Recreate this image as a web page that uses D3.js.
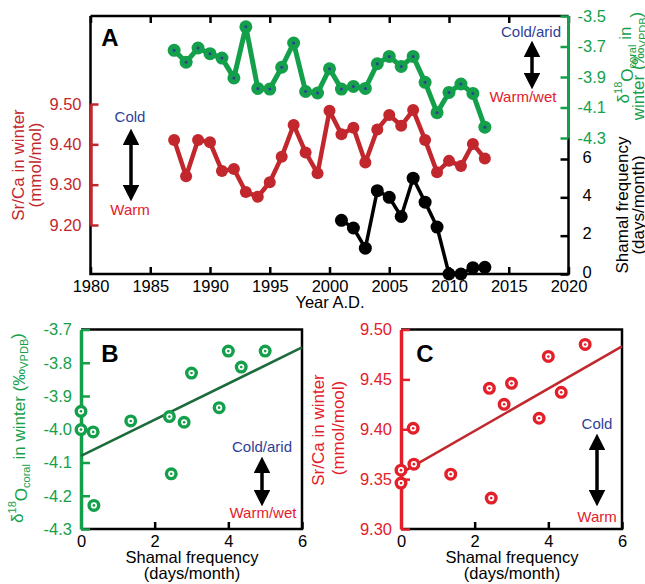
<!DOCTYPE html>
<html><head><meta charset="utf-8">
<script src="https://cdn.jsdelivr.net/npm/d3@7"></script>
<style>
body{margin:0;background:#fff;}
svg text{font-family:"Liberation Sans",Arial,Helvetica,sans-serif;}
</style></head>
<body>
<svg id="chart" width="645" height="584"></svg>
<script>
// ---------- data ----------
const years = [1987,1988,1989,1990,1991,1992,1993,1994,1995,1996,1997,1998,1999,2000,2001,2002,2003,2004,2005,2006,2007,2008,2009,2010,2011,2012,2013];
const srca = [9.411,9.321,9.411,9.405,9.334,9.339,9.282,9.270,9.306,9.369,9.448,9.380,9.328,9.483,9.425,9.441,9.355,9.437,9.473,9.446,9.485,9.411,9.331,9.359,9.346,9.401,9.365];
const d18o = [-3.725,-3.803,-3.710,-3.747,-3.776,-3.906,-3.571,-3.975,-3.979,-3.836,-3.677,-3.995,-4.005,-3.846,-3.979,-3.962,-3.975,-3.813,-3.765,-3.831,-3.765,-3.935,-4.134,-4.001,-3.946,-4.008,-4.229];
const shamalYears = [2001,2002,2003,2004,2005,2006,2007,2008,2009,2010,2011,2012,2013];
const shamal = [2.8,2.4,1.35,4.35,4.0,3.0,5.0,3.75,2.45,0,0,0.33,0.35];
const yearTicks = [1980,1985,1990,1995,2000,2005,2010,2015,2020];
const srcaTicksA = [9.20,9.30,9.40,9.50];
const d18oTicksA = [-4.3,-4.1,-3.9,-3.7,-3.5];
const shamalTicksA = [0,2,4,6];
const shamalTicksBC = [0,2,4,6];
const d18oTicksB = [-4.3,-4.2,-4.1,-4.0,-3.9,-3.8,-3.7];
const srcaTicksC = [9.30,9.35,9.40,9.45,9.50];
const fitX = [0,6];
const fitB = [-4.08,-3.754];
const fitC = [9.356,9.483];

// ---------- styles ----------
const GREEN="#14a04b", RED="#c1272d", CRED="#e3202a", BLUE="#2e3f98", DKGREEN="#1d6b3a";
const svg = d3.select("#chart");
svg.append("rect").attr("width",645).attr("height",584).attr("fill","#fff");

function styleAxis(g,color,labelColor,fs,domainW){
  g.selectAll(".tick line").attr("stroke",color).attr("stroke-width",2.5);
  g.selectAll(".tick text").attr("fill",labelColor).attr("font-size",fs).attr("font-family",'"Liberation Sans",Arial,sans-serif');
  g.select(".domain").attr("stroke",color).attr("stroke-width",domainW||2.5);
}

// ---------- Panel A ----------
const xA = d3.scaleLinear().domain([1980,2020]).range([90.5,568.5]);
const yRed = d3.scaleLinear().domain([9.2,9.5]).range([225,104]);
const yGrn = d3.scaleLinear().domain([-4.3,-3.5]).range([138,16]);
const ySh = d3.scaleLinear().domain([0,6]).range([274,159]);

svg.append("path").attr("d",`M${xA(1980)},16 H${xA(2020)} M${xA(1980)},16 V274 H${xA(2020)} V16`)
  .attr("fill","none").attr("stroke","#000").attr("stroke-width",2.5);

const gxA = svg.append("g").attr("transform","translate(0,274)")
  .call(d3.axisBottom(xA).tickValues(yearTicks).tickFormat(d3.format("d")).tickSizeInner(-7).tickSizeOuter(0).tickPadding(6));
styleAxis(gxA,"#000","#000",16.5);
gxA.select(".domain").remove();
const gxT = svg.append("g").attr("transform","translate(0,16)")
  .call(d3.axisTop(xA).tickValues(yearTicks).tickFormat("").tickSizeInner(-7).tickSizeOuter(0));
styleAxis(gxT,"#000","#000",16);
gxT.select(".domain").remove();

const gyR = svg.append("g").attr("transform",`translate(${xA(1980)},0)`)
  .call(d3.axisLeft(yRed).tickValues(srcaTicksA).tickFormat(d=>d.toFixed(2)).tickSizeInner(-8).tickSizeOuter(0).tickPadding(9));
styleAxis(gyR,RED,RED,16.5,3.5);
const gyG = svg.append("g").attr("transform",`translate(${xA(2020)},0)`)
  .call(d3.axisRight(yGrn).tickValues(d18oTicksA).tickFormat(d=>d.toFixed(1).replace("\u2212","-")).tickSizeInner(-8).tickSizeOuter(0).tickPadding(9));
styleAxis(gyG,GREEN,GREEN,16.5,3);
gyG.select(".domain").attr("d",`M0,${yGrn(-3.5)}V${yGrn(-4.3)}`);
const gyS = svg.append("g").attr("transform",`translate(${xA(2020)},0)`)
  .call(d3.axisRight(ySh).tickValues(shamalTicksA).tickFormat(d3.format("d")).tickSizeInner(-8).tickSizeOuter(0).tickPadding(14));
styleAxis(gyS,"#000","#000",16.5);
gyS.select(".domain").remove();
gyS.selectAll(".tick text").attr("dy","0.2em");

const redData = years.map((y,i)=>({x:y,v:srca[i]}));
const grnData = years.map((y,i)=>({x:y,v:d18o[i]}));
const shData = shamalYears.map((y,i)=>({x:y,v:shamal[i]}));

svg.append("path").datum(redData).attr("fill","none").attr("stroke",RED).attr("stroke-width",4.5).attr("stroke-linejoin","round")
  .attr("d",d3.line().x(d=>xA(d.x)).y(d=>yRed(d.v)));
svg.append("g").selectAll("circle").data(redData).join("circle").attr("cx",d=>xA(d.x)).attr("cy",d=>yRed(d.v)).attr("r",6).attr("fill",RED);

svg.append("path").datum(grnData).attr("fill","none").attr("stroke",GREEN).attr("stroke-width",5).attr("stroke-linejoin","round")
  .attr("d",d3.line().x(d=>xA(d.x)).y(d=>yGrn(d.v)));
svg.append("g").selectAll("circle").data(grnData).join("circle").attr("cx",d=>xA(d.x)).attr("cy",d=>yGrn(d.v)).attr("r",6.5).attr("fill",GREEN);
svg.append("g").selectAll("circle").data(grnData).join("circle").attr("cx",d=>xA(d.x)).attr("cy",d=>yGrn(d.v)).attr("r",1.5).attr("fill",BLUE);

svg.append("path").datum(shData).attr("fill","none").attr("stroke","#000").attr("stroke-width",3.5).attr("stroke-linejoin","round")
  .attr("d",d3.line().x(d=>xA(d.x)).y(d=>ySh(d.v)));
svg.append("g").selectAll("circle").data(shData).join("circle").attr("cx",d=>xA(d.x)).attr("cy",d=>ySh(d.v)).attr("r",6.5).attr("fill","#000");

svg.append("defs").html(`<marker id="ah" viewBox="0 0 10 10" refX="5" refY="5" markerWidth="4.8" markerHeight="4.8" orient="auto-start-reverse"><path d="M0,0 L10,5 L0,10 z" fill="#000"/></marker>`);
function arrow(x,y1,y2){
  svg.append("line").attr("x1",x).attr("x2",x).attr("y1",y1+9).attr("y2",y2-9).attr("stroke","#000").attr("stroke-width",3.5)
    .attr("marker-start","url(#ah)").attr("marker-end","url(#ah)");
}
function txt(x,y,s,color,fs,anchor,weight){
  return svg.append("text").attr("x",x).attr("y",y).attr("fill",color).attr("font-size",fs)
    .attr("text-anchor",anchor||"middle").attr("font-weight",weight||"normal").text(s);
}
txt(110,46,"A","#000",24,"middle","bold");
txt(130,122,"Cold",BLUE,15);
arrow(131,128,202);
txt(130,215,"Warm",CRED,15);
txt(531,37,"Cold/arid",BLUE,15);
arrow(532,40,90);
txt(523,102,"Warm/wet",CRED,15);
txt(330,308,"Year A.D.","#000",16.5);

function rtext(cx,cy,fs,color){
  return svg.append("text").attr("transform",`translate(${cx},${cy}) rotate(-90)`).attr("text-anchor","middle")
    .attr("fill",color).attr("font-size",fs).attr("dy","0.35em");
}
rtext(18,165,17,RED).text("Sr/Ca in winter");
rtext(35,165,17,RED).text("(mmol/mol)");
{
  const t = rtext(623,65,17,GREEN);
  t.append("tspan").text("\u03b4");
  t.append("tspan").attr("font-size",11).attr("dy","-0.6em").text("18");
  t.append("tspan").attr("dy","0.6em").text("O");
  t.append("tspan").attr("font-size",11).attr("dy","0.3em").text("coral");
  t.append("tspan").attr("dy","-0.3em").text(" in");
  const t2 = rtext(638,66,17,GREEN);
  t2.append("tspan").text("winter (\u2030");
  t2.append("tspan").attr("font-size",11).attr("dy","0.3em").text("VPDB");
  t2.append("tspan").attr("dy","-0.3em").text(")");
}
rtext(622,205,17,"#000").text("Shamal frequency");
rtext(638,205,17,"#000").text("(days/month)");

// ---------- Panel B ----------
const xB = d3.scaleLinear().domain([0,6]).range([81,302]);
const yB = d3.scaleLinear().domain([-4.3,-3.7]).range([529,329.5]);
svg.append("path").attr("d",`M${xB(0)},${yB(-3.7)} H${xB(6)} V${yB(-4.3)} H${xB(0)}`).attr("fill","none").attr("stroke","#000").attr("stroke-width",2.5);
const gxB = svg.append("g").attr("transform",`translate(0,${yB(-4.3)})`)
  .call(d3.axisBottom(xB).tickValues(shamalTicksBC).tickFormat(d3.format("d")).tickSizeInner(-7).tickSizeOuter(0).tickPadding(6));
styleAxis(gxB,"#000","#000",16.5); gxB.select(".domain").remove();
const gyB = svg.append("g").attr("transform",`translate(${xB(0)},0)`)
  .call(d3.axisLeft(yB).tickValues(d18oTicksB).tickFormat(d=>d.toFixed(1)).tickSizeInner(-9).tickSizeOuter(0).tickPadding(9));
styleAxis(gyB,GREEN,GREEN,16.5,3.5);

const bData = shamalYears.map((y,i)=>({x:shamal[i],v:d18o[years.indexOf(y)]}));
svg.append("line").attr("x1",xB(fitX[0])).attr("y1",yB(fitB[0])).attr("x2",xB(fitX[1])).attr("y2",yB(fitB[1]))
  .attr("stroke",DKGREEN).attr("stroke-width",2.5);
svg.append("g").selectAll("circle").data(bData).join("circle").attr("cx",d=>xB(d.x)).attr("cy",d=>yB(d.v)).attr("r",4.8)
  .attr("fill","#fff").attr("stroke",GREEN).attr("stroke-width",3.4);
svg.append("g").selectAll("circle").data(bData).join("circle").attr("cx",d=>xB(d.x)).attr("cy",d=>yB(d.v)).attr("r",1.3).attr("fill",GREEN);

txt(110,362,"B","#000",24,"middle","bold");
txt(262,452,"Cold/arid",BLUE,15);
arrow(262,456,507);
txt(263,518,"Warm/wet",CRED,15);
txt(192,563,"Shamal frequency","#000",16.5);
txt(192,579,"(days/month)","#000",16.5);
{
  const t = rtext(17,428,17,GREEN);
  t.append("tspan").text("\u03b4");
  t.append("tspan").attr("font-size",11).attr("dy","-0.6em").text("18");
  t.append("tspan").attr("dy","0.6em").text("O");
  t.append("tspan").attr("font-size",11).attr("dy","0.3em").text("coral");
  t.append("tspan").attr("dy","-0.3em").text(" in winter (\u2030");
  t.append("tspan").attr("font-size",11).attr("dy","0.3em").text("VPDB");
  t.append("tspan").attr("dy","-0.3em").text(")");
}

// ---------- Panel C ----------
const xC = d3.scaleLinear().domain([0,6]).range([401,622]);
const yC = d3.scaleLinear().domain([9.3,9.5]).range([529,329.5]);
svg.append("path").attr("d",`M${xC(0)},${yC(9.5)} H${xC(6)} V${yC(9.3)} H${xC(0)}`).attr("fill","none").attr("stroke","#000").attr("stroke-width",2.5);
const gxC = svg.append("g").attr("transform",`translate(0,${yC(9.3)})`)
  .call(d3.axisBottom(xC).tickValues(shamalTicksBC).tickFormat(d3.format("d")).tickSizeInner(-7).tickSizeOuter(0).tickPadding(6));
styleAxis(gxC,"#000","#000",16.5); gxC.select(".domain").remove();
const gyC = svg.append("g").attr("transform",`translate(${xC(0)},0)`)
  .call(d3.axisLeft(yC).tickValues(srcaTicksC).tickFormat(d=>d.toFixed(2)).tickSizeInner(-9).tickSizeOuter(0).tickPadding(9));
styleAxis(gyC,CRED,CRED,16.5,3.5);

const cData = shamalYears.map((y,i)=>({x:shamal[i],v:srca[years.indexOf(y)]}));
svg.append("line").attr("x1",xC(fitX[0])).attr("y1",yC(fitC[0])).attr("x2",xC(fitX[1])).attr("y2",yC(fitC[1]))
  .attr("stroke",RED).attr("stroke-width",2.5);
svg.append("g").selectAll("circle").data(cData).join("circle").attr("cx",d=>xC(d.x)).attr("cy",d=>yC(d.v)).attr("r",4.8)
  .attr("fill","#fff").attr("stroke",CRED).attr("stroke-width",3.4);
svg.append("g").selectAll("circle").data(cData).join("circle").attr("cx",d=>xC(d.x)).attr("cy",d=>yC(d.v)).attr("r",1.3).attr("fill",CRED);

txt(425,362,"C","#000",24,"middle","bold");
txt(597,429,"Cold",BLUE,15);
arrow(597,433,507);
txt(597,522,"Warm",CRED,15);
txt(512,563,"Shamal frequency","#000",16.5);
txt(512,579,"(days/month)","#000",16.5);
rtext(318,430,17,CRED).text("Sr/Ca in winter");
rtext(338,428,17,CRED).text("(mmol/mool)");
</script>
</body></html>
